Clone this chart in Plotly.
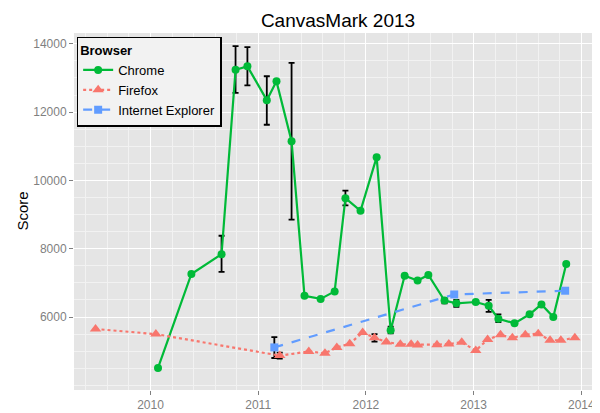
import plotly.graph_objects as go

chrome_x = [2010.07, 2010.38, 2010.66, 2010.79, 2010.90, 2011.08, 2011.17, 2011.31, 2011.43, 2011.58,
            2011.71, 2011.81, 2011.95, 2012.10, 2012.23, 2012.36, 2012.48, 2012.58, 2012.73, 2012.84,
            2013.02, 2013.14, 2013.23, 2013.38, 2013.52, 2013.63, 2013.74, 2013.86]
chrome_y = [4510, 7260, 7840, 13240, 13340, 12350, 12900, 11150, 6620, 6530,
            6750, 9480, 9110, 10680, 5610, 7210, 7070, 7230, 6480, 6400,
            6440, 6330, 5950, 5815, 6080, 6370, 6000, 7550]
chrome_hi = [0, 0, 8380, 13930, 13900, 13050, 0, 13440, 0, 0,
             0, 9700, 0, 0, 5720, 0, 0, 0, 6560, 6500,
             0, 6500, 6080, 0, 0, 0, 0, 0]
chrome_lo = [0, 0, 7320, 12560, 12780, 11630, 0, 8850, 0, 0,
             0, 9270, 0, 0, 5520, 0, 0, 0, 6400, 6300,
             0, 6150, 5850, 0, 0, 0, 0, 0]

firefox_x = [2009.49, 2010.05, 2011.20, 2011.47, 2011.62, 2011.73, 2011.85, 2011.97, 2012.08, 2012.19,
             2012.32, 2012.42, 2012.48, 2012.66, 2012.77, 2012.89, 2013.02, 2013.13, 2013.25, 2013.36,
             2013.48, 2013.60, 2013.71, 2013.81, 2013.94]
firefox_y = [5650, 5500, 4870, 4990, 4940, 5110, 5220, 5550, 5390, 5270,
             5200, 5200, 5180, 5190, 5210, 5260, 5020, 5340, 5480, 5390,
             5480, 5510, 5320, 5320, 5390]
firefox_hi = [0, 0, 4960, 0, 0, 0, 0, 0, 5500, 0, 0, 0, 0, 0, 0, 0, 0, 0, 0, 0, 0, 0, 0, 0, 0]
firefox_lo = [0, 0, 4780, 0, 0, 0, 0, 0, 5280, 0, 0, 0, 0, 0, 0, 0, 0, 0, 0, 0, 0, 0, 0, 0, 0]

ie_x = [2011.15, 2012.82, 2013.85]
ie_y = [5110, 6660, 6770]
ie_hi = [5410, 0, 0]
ie_lo = [4800, 0, 0]

fig = go.Figure()


def add_errors(xs, ys, hi, lo):
    ex, ey, up, dn = [], [], [], []
    for x, y, h, l in zip(xs, ys, hi, lo):
        if h:
            ex.append(x)
            ey.append(y)
            up.append(h - y)
            dn.append(y - l)
    fig.add_trace(go.Scatter(
        x=ex, y=ey, mode='markers', marker=dict(size=0.1, color='rgba(0,0,0,0)'),
        error_y=dict(type='data', array=up, arrayminus=dn, color='black', thickness=1.8, width=3),
        showlegend=False, hoverinfo='skip',
    ))


add_errors(chrome_x, chrome_y, chrome_hi, chrome_lo)
add_errors(firefox_x, firefox_y, firefox_hi, firefox_lo)
add_errors(ie_x, ie_y, ie_hi, ie_lo)

fig.add_trace(go.Scatter(x=chrome_x, y=chrome_y, name='Chrome', mode='lines+markers',
                         line=dict(color='#00BA38', width=2.2),
                         marker=dict(symbol='circle', size=8, color='#00BA38')))
fig.add_trace(go.Scatter(x=firefox_x, y=firefox_y, name='Firefox', mode='lines+markers',
                         line=dict(color='#F8766D', width=2.2, dash='dot'),
                         marker=dict(symbol='triangle-up', size=10, color='#F8766D')))
fig.add_trace(go.Scatter(x=ie_x, y=ie_y, name='Internet Explorer', mode='lines+markers',
                         line=dict(color='#619CFF', width=2.2, dash='dash'),
                         marker=dict(symbol='square', size=8, color='#619CFF')))

axis = dict(showline=False, zeroline=False, gridcolor='white', gridwidth=1.2,
            ticks='outside', tickcolor='#7f7f7f', ticklen=4, automargin=False,
            tickfont=dict(size=12, color='#7f7f7f'),
            minor=dict(showgrid=True, gridcolor='#f2f2f2', gridwidth=0.6))

fig.update_layout(
    width=600, height=413,
    margin=dict(l=66, r=3, t=25, b=31),
    paper_bgcolor='white', plot_bgcolor='#E5E5E5',
    font=dict(family='Liberation Sans, Arial, sans-serif', color='black'),
    title=dict(text='CanvasMark 2013', x=0.55, xanchor='center', y=0.985, yanchor='top',
               font=dict(size=19)),
    xaxis=dict(axis, range=[2009.29, 2014.22], tickvals=[2010, 2011, 2012, 2013, 2014],
               tickformat='d'),
    yaxis=dict(axis, range=[3863, 14316], tickvals=[6000, 8000, 10000, 12000, 14000],
               tickformat='d'),
    annotations=[
        dict(text='Date', x=0.5, y=0, xref='paper', yref='paper', yshift=-19,
             yanchor='top', showarrow=False, font=dict(size=15)),
        dict(text='Score', x=0, y=0.5, xref='paper', yref='paper', xshift=-52,
             xanchor='center', textangle=-90, showarrow=False, font=dict(size=15)),
    ],
    legend=dict(x=0.005, y=0.99, xanchor='left', yanchor='top', bgcolor='#f2f2f2',
                bordercolor='black', borderwidth=1.5, font=dict(size=13),
                title=dict(text='<b>Browser</b>', font=dict(size=13)),
                tracegroupgap=0, itemwidth=30),
)

fig.write_html("out.html")
